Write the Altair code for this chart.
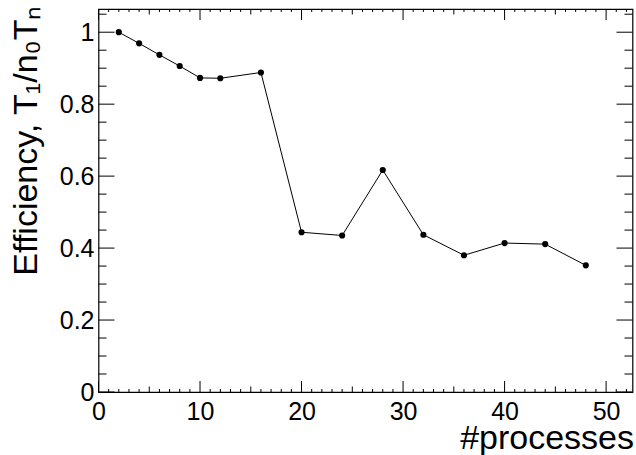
import altair as alt
import pandas as pd

# Parallel efficiency measured for each process count
processes = [2, 4, 6, 8, 10, 12, 16, 20, 24, 28, 32, 36, 40, 44, 48]
efficiency = [1.0, 0.969, 0.937, 0.906, 0.873, 0.872, 0.888,
              0.444, 0.435, 0.617, 0.437, 0.380, 0.414, 0.411, 0.352]

# Axis ranges and tick layout (frame style with inward ticks on all sides)
X_RANGE = [0, 52.6]
Y_RANGE = [0, 1.0645]
x_major = [0, 10, 20, 30, 40, 50]
x_medium = [5, 15, 25, 35, 45]
x_minor = [v for v in range(0, 53) if v % 5 != 0]
y_major = [0, 0.2, 0.4, 0.6, 0.8, 1.0]
y_minor = [0.05, 0.1, 0.15, 0.25, 0.3, 0.35, 0.45, 0.5, 0.55, 0.65,
           0.7, 0.75, 0.85, 0.9, 0.95, 1.05]

W, H = 534, 383
FONT = "Liberation Sans"
TITLE_SIZE = 34

df = pd.DataFrame({"processes": processes, "efficiency": efficiency})
xs = alt.Scale(domain=X_RANGE, nice=False, zero=False)
ys = alt.Scale(domain=Y_RANGE, nice=False, zero=False)

x_axis = alt.Axis(
    values=x_major, format="d", ticks=False, tickSize=0, domain=False, grid=False,
    labelFont=FONT, labelFontSize=25, labelColor="black", labelPadding=7,
    labelFlush=False, labelOverlap=False, labelBaseline="top",
    title="#processes", titleFont=FONT, titleFontSize=TITLE_SIZE,
    titleFontWeight="normal", titleColor="black", titleAlign="right",
    titleAnchor="end", titleX=W + 1, titleY=56, titleBaseline="alphabetic",
)
y_axis = alt.Axis(
    values=y_major, format="~g", ticks=False, tickSize=0, domain=False, grid=False,
    labelFont=FONT, labelFontSize=25, labelColor="black", labelPadding=4.5,
    labelFlush=False, labelOverlap=False,
    title="Efficiency, T\u2081/n\u2080T\u2099", titleFont=FONT,
    titleFontSize=TITLE_SIZE, titleFontWeight="normal", titleColor="black",
    titleAngle=270, titleAlign="right", titleAnchor="end",
    titleX=-62, titleY=-4, titleBaseline="alphabetic",
)

base = alt.Chart(df).encode(
    x=alt.X("processes:Q", scale=xs, axis=x_axis),
    y=alt.Y("efficiency:Q", scale=ys, axis=y_axis),
)
line = base.mark_line(color="black", strokeWidth=1)
dots = base.mark_circle(color="black", opacity=1, size=38)

layers = [line, dots]


def x_ticks(values, length):
    d = pd.DataFrame({"v": values})
    enc_x = alt.X("v:Q", scale=xs, axis=x_axis)
    bottom = alt.Chart(d).mark_rule(color="black", strokeWidth=1).encode(
        x=enc_x, y=alt.value(H), y2=alt.value(H - length))
    top = alt.Chart(d).mark_rule(color="black", strokeWidth=1).encode(
        x=enc_x, y=alt.value(0), y2=alt.value(length))
    return [bottom, top]


def y_ticks(values, length):
    d = pd.DataFrame({"v": values})
    enc_y = alt.Y("v:Q", scale=ys, axis=y_axis)
    left = alt.Chart(d).mark_rule(color="black", strokeWidth=1).encode(
        y=enc_y, x=alt.value(0), x2=alt.value(length))
    right = alt.Chart(d).mark_rule(color="black", strokeWidth=1).encode(
        y=enc_y, x=alt.value(W), x2=alt.value(W - length))
    return [left, right]


layers += x_ticks(x_major, 11) + x_ticks(x_medium, 5.5) + x_ticks(x_minor, 3)
layers += y_ticks(y_major, 16) + y_ticks(y_minor, 8)

chart = alt.layer(*layers).properties(
    width=W, height=H,
    padding={"left": 98.5, "top": 9, "right": 3.5, "bottom": 63},
    autosize=alt.AutoSizeParams(type="none"),
    background="white",
).configure_view(stroke="black", strokeWidth=1.2)

chart.save("out.html", embed_options={"renderer": "svg", "actions": False})
